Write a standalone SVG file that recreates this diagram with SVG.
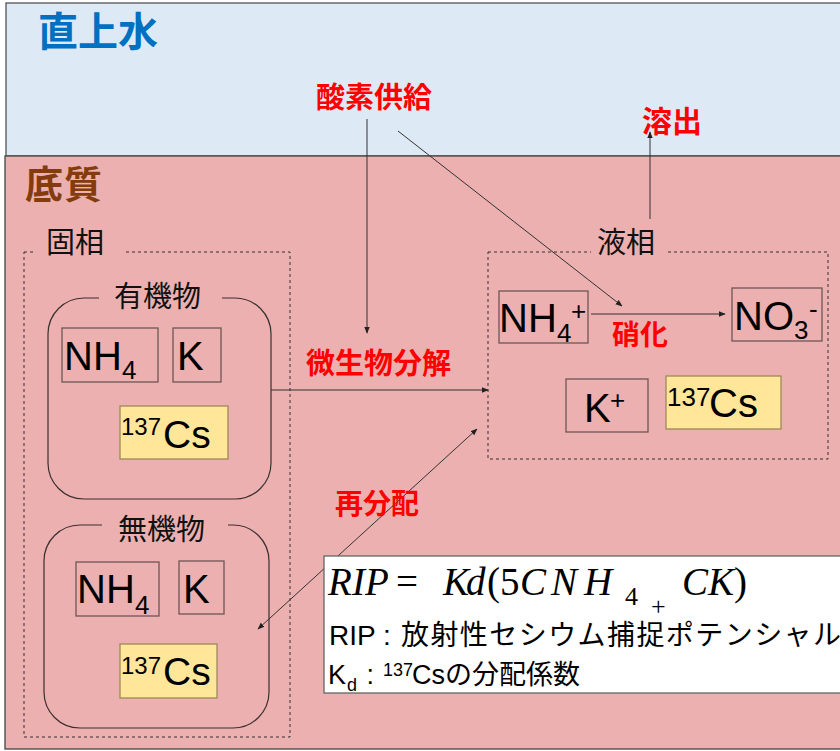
<svg xmlns="http://www.w3.org/2000/svg" width="840" height="751" viewBox="0 0 840 751">
<defs>
<style>
.cjk{font-family:"Noto Sans CJK JP","Noto Sans",sans-serif}
.red{fill:#ff0000;font-weight:bold}
.lbl{fill:#111;font-size:29px}
.sans{font-family:"Liberation Sans",Arial,"Noto Sans CJK JP",sans-serif;fill:#000}
.box{fill:none;stroke:#6e5656;stroke-width:1.3}
.ybox{fill:#ffe699;stroke:#9c8a5a;stroke-width:1.3}
.rbox{fill:none;stroke:#3a3030;stroke-width:1.2}
.dash{fill:none;stroke:#333;stroke-width:1;stroke-dasharray:3,3}
.gapbg{fill:#ebb0af}
.conn{stroke:#333;stroke-width:1;fill:none}
.math{font-family:"Liberation Serif","DejaVu Serif",serif;fill:#000;font-size:39px}
.it{font-style:italic}
</style>
<marker id="ah" viewBox="0 0 10 10" refX="9" refY="5" markerWidth="7" markerHeight="7" markerUnits="userSpaceOnUse" orient="auto-start-reverse">
<path d="M0,1 L10,5 L0,9 z" fill="#222"/>
</marker>
</defs>

<g id="water">
<rect x="6" y="3" width="840" height="153" fill="#dde9f5" stroke="#555" stroke-width="1.3"/>
<text x="38" y="46" class="cjk" font-size="40" font-weight="bold" fill="#0070c0">直上水</text>
</g>

<g id="sediment">
<rect x="5" y="156" width="840" height="593" fill="#ebb0af" stroke="#444" stroke-width="1.3"/>
<text x="25" y="198" class="cjk" font-size="38" font-weight="bold" fill="#843c0c" letter-spacing="1">底質</text>
</g>

<g id="solid-phase">
<rect x="24" y="252" width="266" height="485" class="dash"/>
<rect x="34" y="240" width="89" height="20" class="gapbg"/>
<text x="46" y="253" class="cjk lbl">固相</text>
</g>

<g id="organic">
<rect x="48" y="298" width="223" height="201" rx="36" ry="36" class="rbox"/>
<rect x="99" y="285" width="123" height="20" class="gapbg"/>
<text x="114" y="307" class="cjk lbl" font-size="30">有機物</text>
<g id="org-nh4">
<rect x="62" y="328" width="96" height="54" class="box"/>
<text x="64" y="370" class="sans" font-size="40">NH</text>
<text x="122" y="379" class="sans" font-size="26">4</text>
</g>
<g id="org-k">
<rect x="173" y="328" width="48" height="54" class="box"/>
<text x="177" y="370" class="sans" font-size="40">K</text>
</g>
<g id="org-cs">
<rect x="120" y="406" width="108" height="53" class="ybox"/>
<text x="121" y="435" class="sans" font-size="24">137</text>
<text x="163" y="448" class="sans" font-size="39">Cs</text>
</g>
</g>

<g id="inorganic">
<rect x="44" y="525" width="225" height="203" rx="36" ry="36" class="rbox"/>
<rect x="102" y="512" width="126" height="20" class="gapbg"/>
<text x="118" y="540" class="cjk lbl" font-size="30">無機物</text>
<g id="inorg-nh4">
<rect x="76" y="562" width="83" height="54" class="box"/>
<text x="77" y="603" class="sans" font-size="40">NH</text>
<text x="135" y="614" class="sans" font-size="26">4</text>
</g>
<g id="inorg-k">
<rect x="179" y="561" width="45" height="53" class="box"/>
<text x="183" y="603" class="sans" font-size="40">K</text>
</g>
<g id="inorg-cs">
<rect x="120" y="644" width="97" height="54" class="ybox"/>
<text x="121" y="674" class="sans" font-size="24">137</text>
<text x="163" y="685" class="sans" font-size="39">Cs</text>
</g>
</g>

<g id="liquid-phase">
<rect x="488" y="252" width="340" height="207" class="dash"/>
<rect x="591" y="240" width="76" height="20" class="gapbg"/>
<text x="597" y="253" class="cjk lbl">液相</text>
<g id="liq-nh4">
<rect x="499" y="291" width="89" height="52" class="box"/>
<text x="499" y="332" class="sans" font-size="40">NH</text>
<text x="557" y="342" class="sans" font-size="26">4</text>
<text x="571" y="320" class="sans" font-size="26">+</text>
</g>
<g id="liq-no3">
<rect x="732" y="288" width="90" height="53" class="box"/>
<text x="734" y="330" class="sans" font-size="40">NO</text>
<text x="794" y="339" class="sans" font-size="26">3</text>
<text x="809" y="318" class="sans" font-size="26">-</text>
</g>
<g id="liq-k">
<rect x="566" y="379" width="82" height="53" class="box"/>
<text x="584" y="422" class="sans" font-size="40">K</text>
<text x="610" y="409" class="sans" font-size="26">+</text>
</g>
<g id="liq-cs">
<rect x="666" y="376" width="115" height="53" class="ybox"/>
<text x="667" y="406" class="sans" font-size="26">137</text>
<text x="709" y="417" class="sans" font-size="40">Cs</text>
</g>
</g>

<g id="connectors">
<line x1="367" y1="119" x2="367" y2="333" class="conn" marker-end="url(#ah)"/>
<line x1="398" y1="131" x2="622" y2="306" class="conn" marker-end="url(#ah)"/>
<line x1="650" y1="219" x2="650" y2="132" class="conn" marker-end="url(#ah)"/>
<line x1="591" y1="314" x2="725" y2="314" class="conn" marker-end="url(#ah)"/>
<line x1="271" y1="390" x2="488" y2="390" class="conn" stroke="#5a4545" stroke-width="1.3" marker-end="url(#ah)"/>
<line x1="477" y1="429" x2="258" y2="629" class="conn" marker-start="url(#ah)" marker-end="url(#ah)"/>
</g>

<g id="labels">
<text x="316" y="108" class="cjk red" font-size="29">酸素供給</text>
<text x="642" y="132" class="cjk red" font-size="30">溶出</text>
<text x="306" y="374" class="cjk red" font-size="29">微生物分解</text>
<text x="612" y="345" class="cjk red" font-size="28">硝化</text>
<text x="335" y="514" class="cjk red" font-size="28">再分配</text>
</g>

<g id="formula">
<rect x="324" y="556" width="530" height="137" fill="#ffffff" stroke="#666" stroke-width="1.3"/>
<text class="math" y="595"><tspan x="328" class="it">R</tspan><tspan x="352" class="it">I</tspan><tspan x="365" class="it">P</tspan><tspan x="396">=</tspan><tspan x="443" class="it">K</tspan><tspan x="466" class="it">d</tspan><tspan x="487">(</tspan><tspan x="500">5</tspan><tspan x="520" class="it">C</tspan><tspan x="551" class="it">N</tspan><tspan x="584" class="it">H</tspan><tspan x="625" y="605" font-size="26">4</tspan><tspan x="651" y="615" font-size="26">+</tspan><tspan x="682" y="595" class="it">C</tspan><tspan x="708" class="it">K</tspan><tspan x="734">)</tspan></text>
<text y="645" class="sans" font-size="28"><tspan x="329">RIP : </tspan><tspan x="401" textLength="440" lengthAdjust="spacing">放射性セシウム捕捉ポテンシャル</tspan></text>
<text y="684" class="sans" font-size="27"><tspan x="328">K</tspan><tspan x="347" y="691" font-size="18">d</tspan><tspan x="359" y="684"> : </tspan><tspan x="383" y="676" font-size="18">137</tspan><tspan x="412" y="684">Csの分配係数</tspan></text>
</g>
</svg>
